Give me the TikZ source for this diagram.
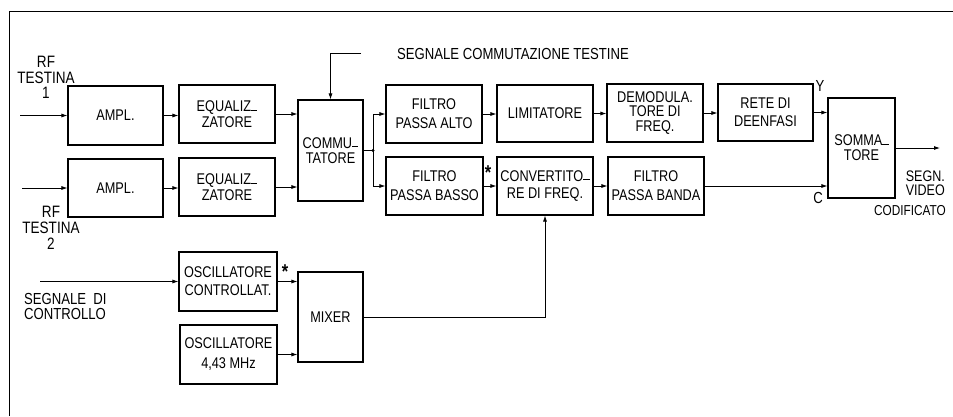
\documentclass[tikz,border=0pt]{standalone}
\usepackage{fontspec}
\setmainfont{Liberation Sans}[FakeStretch=0.82]
\usetikzlibrary{arrows.meta}
\newcommand\lowdash{\rule[1pt]{0.4em}{1pt}}
\begin{document}
\begin{tikzpicture}[x=1pt,y=-1pt,
 box/.style={draw, line width=1.1pt, rectangle, inner sep=0pt, align=center, font=\fontsize{15.5}{17}\selectfont},
 wh/.style 2 args={minimum width=#1pt, minimum height=#2pt},
 ls/.style={font=\fontsize{15.5}{#1}\selectfont},
 arr/.style={line width=0.8pt, -{Latex[length=6pt,width=4pt]}},
 conn/.style={line width=0.8pt},
 lbl/.style={inner sep=0pt, align=center, font=\fontsize{16}{15.5}\selectfont},
 star/.style={inner sep=0pt, font=\fontsize{20}{20}\selectfont\bfseries}]
\fill[white] (0,0) rectangle (953,416);
\useasboundingbox (0,0) rectangle (953,416);
% frame
\coordinate (fbl) at (9,416);
\coordinate (ftl) at (9,11);
\coordinate (ftr) at (953,11);
\draw[line width=1pt] (fbl) -- (ftl) -- (ftr);
% boxes
\node[box, wh={95}{59}, ls=17] (amp1) at (115.5,115.5) {AMPL.};
\node[box, wh={95}{58}, ls=17] (amp2) at (115.5,188) {AMPL.};
\node[box, wh={96}{58}, ls=15.5] (eq1) at (227,114) {EQUALIZ\lowdash\\ZATORE};
\node[box, wh={96}{58}, ls=15.5] (eq2) at (227,187) {EQUALIZ\lowdash\\ZATORE};
\node[box, wh={65}{101}, ls=15.5] (comm) at (330.5,150.5) {COMMU\lowdash\\TATORE};
\node[box, wh={96}{58}, ls=19] (fpa) at (434,114) {FILTRO\\PASSA ALTO};
\node[box, wh={96}{57}, ls=17] (lim) at (545,113.5) {LIMITATORE};
\node[box, wh={96}{58}, ls=14.5] (dem) at (655,113) {DEMODULA.\\TORE DI\\FREQ.};
\node[box, wh={95}{57}, ls=18] (rete) at (765.5,112.5) {RETE DI\\DEENFASI};
\node[box, wh={67}{100}, ls=15] (somm) at (861.5,148) {SOMMA\lowdash\\TORE};
\node[box, wh={97}{58}, ls=19] (fpb) at (434.5,186) {FILTRO\\PASSA BASSO};
\node[box, wh={96}{58}, ls=17] (conv) at (545,186) {CONVERTITO\lowdash\\RE DI FREQ.};
\node[box, wh={96}{58}, ls=19] (fband) at (656,186) {FILTRO\\PASSA BANDA};
\node[box, wh={98}{59}, ls=18] (oscc) at (228,281.5) {OSCILLATORE\\CONTROLLAT.};
\node[box, wh={97}{59}, ls=20] (osc) at (228.5,354.5) {OSCILLATORE\\4,43 MHz};
\node[box, wh={65}{90}, ls=17] (mixer) at (330.5,317) {MIXER};
% labels
\node[lbl, font=\fontsize{16.5}{15.5}\selectfont] (rf1) at (46,77.5) {RF\\TESTINA\\1};
\node[lbl, font=\fontsize{16.5}{16}\selectfont] (rf2) at (51,228) {RF\\TESTINA\\2};
\node[lbl, align=left, anchor=west, font=\fontsize{16}{14.5}\selectfont] (sdc) at (24,306.5) {SEGNALE~ DI\\CONTROLLO};
\node[lbl] (sct) at (513,54) {SEGNALE COMMUTAZIONE TESTINE};
\node[lbl, align=right, anchor=east, font=\fontsize{15.3}{14}\selectfont] (sv) at (945,183.5) {SEGN.\\VIDEO};
\node[lbl, anchor=east, font=\fontsize{14.4}{14}\selectfont] (cod) at (946,211) {CODIFICATO};
\node[lbl] (ly) at (820,86) {Y};
\node[lbl] (lc) at (818,198) {C};
\node[star] (st1) at (488,173) {*};
\node[star] (st2) at (285,272) {*};
% coordinates
\coordinate (in1) at (20,115.5);
\coordinate (in2) at (22,188);
\coordinate (cin) at (40,281.5);
\coordinate (j) at (373,150.5);
\coordinate (ctop) at (361,53);
\coordinate (out) at (940,148);
% connectors
\draw[arr] (in1) -- (amp1.west);
\draw[arr] (in2) -- (amp2.west);
\draw[arr] (amp1.east) -- (amp1.east -| eq1.west);
\draw[arr] (amp2.east) -- (amp2.east -| eq2.west);
\draw[arr] (eq1.east) -- (eq1.east -| comm.west);
\draw[arr] (eq2.east) -- (eq2.east -| comm.west);
\draw[arr] (ctop) -| (comm.north);
\draw[conn] (comm.east |- j) -- (j);
\fill (j) circle (1.6pt);
\draw[arr] (j) |- (fpa.west);
\draw[arr] (j) |- (fpb.west);
\draw[arr] (fpa.east) -- (fpa.east -| lim.west);
\draw[arr] (lim.east) -- (lim.east -| dem.west);
\draw[arr] (dem.east) -- (dem.east -| rete.west);
\draw[arr] (rete.east) -- (rete.east -| somm.west);
\draw[arr] (fpb.east) -- (fpb.east -| conv.west);
\draw[arr] (conv.east) -- (conv.east -| fband.west);
\draw[arr] (fband.east) -- (fband.east -| somm.west);
\draw[arr] (somm.east |- out) -- (out);
\draw[arr] (cin) -- (oscc.west);
\draw[arr] (oscc.east) -- (oscc.east -| mixer.west);
\draw[arr] (osc.east) -- (osc.east -| mixer.west);
\draw[arr] (mixer.east) -| (conv.south);
\end{tikzpicture}
\end{document}
